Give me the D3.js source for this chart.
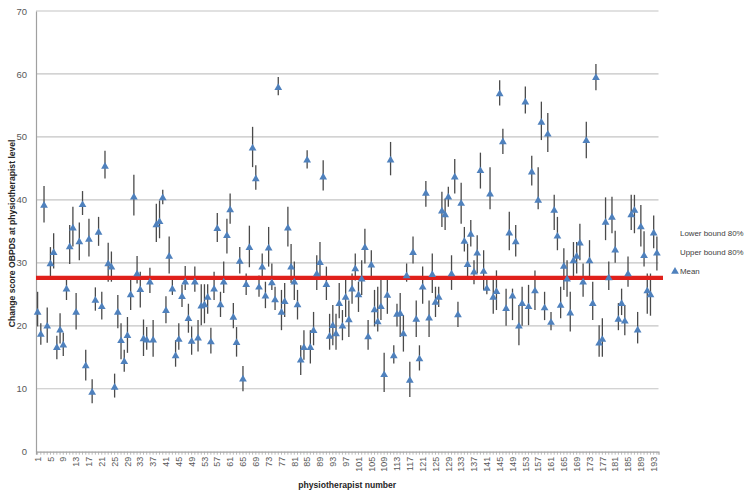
<!DOCTYPE html>
<html>
<head>
<meta charset="utf-8">
<script src="https://cdn.jsdelivr.net/npm/d3@7"></script>
<style>
  html, body { margin: 0; padding: 0; background: #fff; }
  svg { display: block; font-family: "Liberation Sans", Arial, sans-serif; }
</style>
</head>
<body>
<svg id="chart" width="745" height="494"></svg>
<script>
// Mean change score per physiotherapist, with 80% lower / upper bounds
const meanScore = [
  22.2,18.7,39.2,20.0,29.9,31.7,16.6,19.4,17.0,25.9,
  32.6,35.6,22.2,33.4,39.3,13.7,33.8,9.5,24.1,34.9,
  23.1,45.4,29.9,29.4,10.3,22.2,17.7,14.4,18.5,25.0,
  40.5,28.3,25.8,18.0,17.8,27.0,17.8,36.1,36.6,40.4,
  22.5,31.1,25.9,15.3,17.9,24.7,27.0,21.2,17.6,27.0,
  18.1,23.2,23.4,24.6,17.5,25.9,35.5,23.4,27.0,34.4,
  38.5,21.4,17.4,30.3,11.6,26.6,32.5,48.3,43.4,26.2,
  29.4,24.8,32.4,26.9,24.2,57.9,22.2,23.9,35.6,29.4,
  27.0,23.4,14.6,16.6,46.4,16.6,19.3,28.3,30.1,43.7,
  26.6,18.4,20.1,18.8,23.6,20.0,24.6,21.0,25.9,29.1,
  25.0,27.5,32.5,18.3,29.7,22.6,20.7,23.1,12.3,24.9,
  46.4,15.3,21.9,22.0,18.8,28.0,11.4,31.7,21.1,14.8,
  26.2,41.1,21.3,28.2,23.8,24.6,38.3,37.7,40.5,28.3,
  43.7,21.8,39.5,33.5,29.8,34.6,28.6,31.6,44.7,28.7,
  26.0,41.0,24.6,25.5,56.9,49.3,22.8,34.8,24.8,33.4,
  20.0,23.6,55.6,23.1,44.5,25.6,40.0,52.4,22.9,50.5,
  20.6,38.4,34.3,23.3,29.5,27.5,22.1,30.4,31.1,33.2,
  27.0,49.5,30.4,23.6,59.5,17.3,17.9,36.5,27.7,37.3,
  32.1,21.1,23.6,20.8,28.3,37.7,38.4,19.4,35.8,31.2,
  25.6,25.0,34.8,31.6
];
const upperBound = [
  25.4,20.4,42.2,22.9,32.5,34.7,18.4,22.0,18.9,27.9,
  36.0,38.9,25.2,36.4,41.4,16.2,37.0,11.5,26.1,37.3,
  25.4,47.8,33.2,31.8,12.4,24.9,20.4,16.2,21.4,27.7,
  44.0,31.1,28.6,21.0,19.8,29.2,20.9,39.4,39.9,41.6,
  24.7,34.2,27.8,17.7,20.4,26.5,29.5,23.5,19.9,29.4,
  20.9,26.6,26.6,26.6,19.7,28.6,37.9,25.4,30.2,37.0,
  41.0,23.6,19.8,32.5,13.6,28.3,35.9,51.6,45.5,28.0,
  31.5,27.0,35.7,29.9,26.2,59.5,25.7,26.8,38.9,33.0,
  30.2,25.7,16.9,19.3,47.9,19.3,22.2,31.2,33.3,46.3,
  29.4,21.9,23.3,21.9,26.8,22.5,27.8,24.0,28.3,31.5,
  27.0,30.4,35.4,20.9,32.0,25.7,26.2,27.3,15.7,27.3,
  49.2,16.9,23.5,25.2,21.7,29.9,14.3,34.2,24.0,16.9,
  29.4,43.0,24.0,31.5,26.2,26.2,41.3,40.2,42.1,31.2,
  46.5,23.8,42.7,35.7,33.0,36.8,30.4,34.4,47.5,32.0,
  27.8,45.2,27.5,28.8,59.0,51.3,25.9,38.1,25.9,36.0,
  23.3,26.2,58.0,26.5,47.0,28.8,45.2,55.6,25.4,53.8,
  22.2,40.8,37.3,26.2,32.3,30.4,25.4,33.3,33.3,36.2,
  29.9,52.4,33.6,27.0,61.6,20.1,21.2,40.4,30.2,40.5,
  35.1,23.6,25.9,23.3,31.0,40.8,40.8,22.2,39.2,35.0,
  28.3,28.3,37.5,34.2
];
const lowerBound = [
  19.9,17.0,36.4,17.3,27.8,29.1,14.7,17.2,15.2,24.1,
  29.8,32.6,19.4,30.4,37.6,11.3,31.0,7.7,22.4,32.7,
  21.0,43.4,27.0,27.0,8.6,19.6,14.7,12.7,15.7,22.5,
  37.5,26.7,22.9,15.2,16.2,25.2,15.1,33.3,33.9,39.3,
  20.4,28.3,24.9,13.5,16.2,23.0,25.7,18.9,15.4,25.4,
  15.9,20.1,20.4,21.9,15.6,24.1,33.3,21.4,25.2,31.5,
  36.2,19.6,15.1,28.3,9.6,24.9,29.3,45.2,41.6,24.6,
  27.8,22.8,29.4,25.7,22.5,56.6,19.3,21.4,32.6,26.8,
  24.1,21.0,12.2,14.6,45.0,14.0,16.9,25.7,27.8,41.5,
  24.1,16.2,16.9,16.2,21.2,17.7,21.4,18.2,23.5,27.2,
  22.2,24.9,29.9,16.2,27.8,19.9,19.1,20.9,9.5,21.9,
  43.9,14.0,19.9,18.2,15.9,27.0,8.7,29.9,18.2,12.9,
  23.5,38.9,18.2,25.2,21.4,23.0,35.7,35.2,38.9,25.7,
  41.0,19.8,36.2,31.8,27.8,32.6,26.6,28.3,41.8,25.7,
  25.0,38.5,21.9,22.5,55.0,47.3,20.0,32.0,20.9,31.0,
  16.9,20.0,53.7,20.1,42.3,22.5,38.5,49.5,20.9,47.6,
  19.3,35.2,32.0,21.2,25.7,24.6,19.1,27.8,28.3,30.4,
  24.6,46.6,27.8,20.9,57.4,15.1,15.1,33.6,25.7,34.7,
  30.0,19.3,21.7,18.5,26.2,35.2,34.7,17.2,32.6,29.4,
  21.9,21.6,32.3,28.8
];
// Overall mean across physiotherapists (reference line)
const overallMean = 27.6;
const yTicks = [0, 10, 20, 30, 40, 50, 60, 70];
const legendLabels = ["Lower bound 80%", "Upper bound 80%", "Mean"];
const physioIds = meanScore.map((_, i) => i + 1);
const tickIds = physioIds.filter(id => (id - 1) % 4 === 0);

const rows = physioIds.map((id, i) => ({
  id, mean: meanScore[i], lo: lowerBound[i], hi: upperBound[i]
}));

const svg = d3.select("#chart");
const margin = { left: 36, right: 86.5, top: 11, bottom: 42.3 };
const W = 745, H = 494;

const x = d3.scaleBand()
  .domain(physioIds)
  .range([margin.left, W - margin.right])
  .paddingInner(0).paddingOuter(0);
const y = d3.scaleLinear().domain([0, 70]).range([H - margin.bottom, margin.top]);
const cx = id => x(id) + x.bandwidth() / 2;

// Horizontal gridlines
svg.append("g")
  .selectAll("line")
  .data(yTicks.filter(t => t > 0))
  .join("line")
  .attr("x1", x.range()[0]).attr("x2", x.range()[1])
  .attr("y1", d => y(d)).attr("y2", d => y(d))
  .attr("stroke", "#c4c4c4").attr("stroke-width", 1.2);

// Y axis
const yAxis = svg.append("g")
  .attr("transform", `translate(${x.range()[0]},0)`)
  .call(d3.axisLeft(y).tickValues(yTicks).tickSize(0).tickPadding(9));
yAxis.select(".domain").attr("stroke", "#a0a0a0").attr("stroke-width", 1.2);
yAxis.selectAll("text")
  .attr("fill", "#595959").attr("font-size", 9.5)
  .attr("font-family", "Liberation Sans, Arial, sans-serif");

// X axis with a tick per physiotherapist, a label every fourth
const xAxis = svg.append("g")
  .attr("transform", `translate(0,${y(0)})`)
  .call(d3.axisBottom(x).tickValues(physioIds).tickSize(3).tickFormat(""));
xAxis.select(".domain").attr("stroke", "#a0a0a0").attr("stroke-width", 1.2);
xAxis.selectAll(".tick line").attr("stroke", "#a8a8a8").attr("stroke-width", 0.8);

svg.append("g")
  .selectAll("text")
  .data(tickIds)
  .join("text")
  .attr("transform", d => `translate(${cx(d) + 3.2},${y(0) + 5}) rotate(-90)`)
  .attr("text-anchor", "end")
  .attr("font-size", 9)
  .attr("fill", "#595959")
  .text(d => d);

// Interval bars (lower to upper bound)
svg.append("g")
  .selectAll("line")
  .data(rows)
  .join("line")
  .attr("x1", d => cx(d.id)).attr("x2", d => cx(d.id))
  .attr("y1", d => y(d.lo)).attr("y2", d => y(d.hi))
  .attr("stroke", "#4a4a4a").attr("stroke-width", 1.3);

// Overall mean line
svg.append("line")
  .attr("x1", x.range()[0])
  .attr("x2", x.range()[1] + x.bandwidth() * 1.4)
  .attr("y1", y(overallMean)).attr("y2", y(overallMean))
  .attr("stroke", "#e0201b").attr("stroke-width", 4.2);

// Mean markers
const tri = d3.symbol().type(d3.symbolTriangle).size(26);
svg.append("g")
  .selectAll("path")
  .data(rows)
  .join("path")
  .attr("d", tri)
  .attr("transform", d => `translate(${cx(d.id)},${y(d.mean) + 0.6})`)
  .attr("fill", "#4f81bd");

// Axis titles
svg.append("text")
  .attr("transform", `translate(15,${(y(0) + y(70)) / 2 + 2}) rotate(-90)`)
  .attr("text-anchor", "middle")
  .attr("font-size", 8.6).attr("font-weight", "bold").attr("fill", "#262626")
  .text("Change score  OBPDS at physiotherapist  level");

svg.append("text")
  .attr("x", (x.range()[0] + x.range()[1]) / 2)
  .attr("y", 488)
  .attr("text-anchor", "middle")
  .attr("font-size", 8.6).attr("font-weight", "bold").attr("fill", "#262626")
  .text("physiotherapist number");

// Legend
const legend = svg.append("g").attr("transform", "translate(680,233)");
legendLabels.forEach((label, i) => {
  const g = legend.append("g").attr("transform", `translate(0,${i * 19})`);
  g.append("text")
    .attr("x", 0).attr("y", 3)
    .attr("font-size", 7.9).attr("fill", "#404040")
    .text(label);
  if (label === "Mean") {
    g.append("path")
      .attr("d", tri)
      .attr("transform", "translate(-5,0.5)")
      .attr("fill", "#4f81bd");
  }
});
</script>
</body>
</html>
